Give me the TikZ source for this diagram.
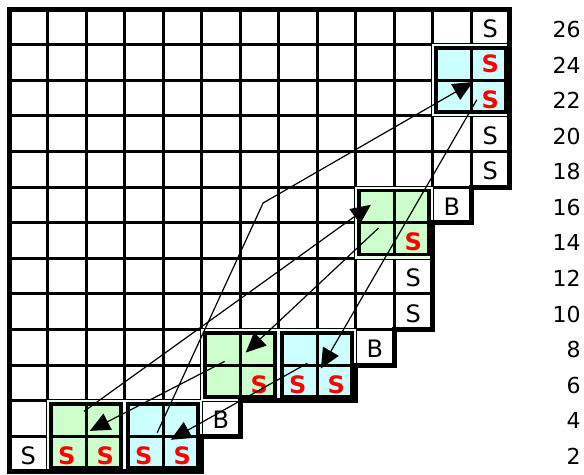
\documentclass[tikz,border=0pt]{standalone}
\usepackage{fontspec}
\setmainfont{DejaVu Sans}
\usetikzlibrary{arrows.meta}
\definecolor{boxgreen}{RGB}{204,255,204}
\definecolor{boxblue}{RGB}{204,255,255}
\definecolor{markred}{RGB}{255,0,0}

\begin{document}
\begin{tikzpicture}[x=38.5pt, y=-35.6pt,
  cell/.style={line width=3pt},
  stairedge/.style={line width=5pt},
  letter/.style={font=\fontsize{24}{24}\selectfont, inner sep=0pt},
  redletter/.style={font=\fontsize{24}{24}\selectfont\bfseries, text=markred, inner sep=0pt},
  rowlbl/.style={font=\fontsize{22}{22}\selectfont, inner sep=0pt, anchor=east},
  link/.style={line width=1.2pt, -{Triangle[length=20pt, width=18pt]}}]

  \useasboundingbox[fill=white] (-0.2338,-0.2528) rectangle (14.935,13.062);

  % staircase grid: row / number of cells
  \foreach \r/\n in {1/13,2/13,3/13,4/13,5/13,6/12,7/11,8/11,9/11,10/10,11/9,12/6,13/5}
    \foreach \c in {1,...,\n}
      \draw[cell] (\c-1,\r-1) rectangle (\c,\r);

  % 2x2 blocks: first column / first row / colour
  \foreach \c/\r/\col in {12/2/boxblue, 10/6/boxgreen, 6/10/boxgreen, 8/10/boxblue, 2/12/boxgreen, 4/12/boxblue} {
    \fill[\col] (\c-1,\r-1) rectangle (\c+1,\r+1);
    \draw[\col!40!white, line width=3pt] (\c-1+0.03,\r-1+0.03) rectangle (\c+1-0.03,\r+1-0.03);
    \draw[line width=3.5pt] (\c-1+0.09,\r-1+0.1) rectangle (\c+1-0.09,\r+1-0.1);
    \draw[cell] (\c,\r-1+0.1) -- (\c,\r+1-0.1);
    \draw[cell] (\c-1+0.09,\r) -- (\c+1-0.09,\r);
  }

  % outline of the staircase
  \draw[stairedge] (0,0) -- (13,0) -- (13,5) -- (12,5) -- (12,6) -- (11,6) -- (11,9)
    -- (10,9) -- (10,10) -- (9,10) -- (9,11) -- (6,11) -- (6,12) -- (5,12) -- (5,13)
    -- (0,13) -- cycle;

  % plain letters
  \foreach \c/\r in {13/1, 13/4, 13/5, 11/8, 11/9, 1/13}
    \node[letter] (s\c-\r) at (\c-0.5,\r-0.45) {S};
  \foreach \c/\r in {12/6, 10/10, 6/12}
    \node[letter] (b\c-\r) at (\c-0.5,\r-0.45) {B};
  \foreach \c/\r in {13/2, 13/3, 11/7, 7/11, 8/11, 9/11, 2/13, 3/13, 4/13, 5/13}
    \node[redletter] (r\c-\r) at (\c-0.5,\r-0.45) {S};

  % row numbers
  \foreach \r [evaluate=\r as \n using int(28-2*\r)] in {1,...,13}
    \node[rowlbl] (lbl\r) at (14.85,\r-0.43) {\n};

  % arrow ends
  \coordinate (outE) at (1.95,11.3);
  \coordinate (inE)  at (2.1,11.85);
  \coordinate (outF) at (3.85,11.9);
  \coordinate (inF)  at (4.2,12.1);
  \coordinate (outC) at (5.6,9.9);
  \coordinate (inC)  at (6.15,9.65);
  \coordinate (outD) at (7.75,9.95);
  \coordinate (inD)  at (8.1,10.1);
  \coordinate (outB) at (9.6,6.15);
  \coordinate (inB)  at (9.4,5.5);
  \coordinate (outA) at (12.15,2.55);
  \coordinate (inA)  at (12.05,2.05);
  \coordinate (kink) at (6.6,5.45);

  \draw[link] (outE) -- (inB);
  \draw[link] (outF) -- (kink) -- (inA);
  \draw[link] (outA) -- (inD);
  \draw[link] (outB) -- (inC);
  \draw[link] (outC) -- (inE);
  \draw[link] (outD) -- (inF);
\end{tikzpicture}
\end{document}
